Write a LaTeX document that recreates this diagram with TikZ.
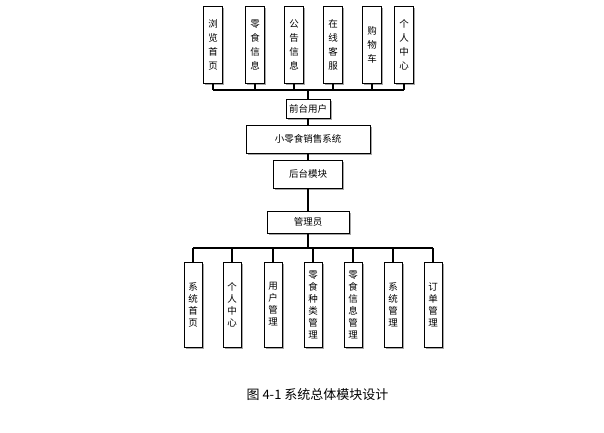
\documentclass[tikz,border=0pt]{standalone}
\usepackage{fontspec}
\setmainfont{Noto Sans CJK SC}
\usetikzlibrary{shadows}
\tikzset{
  modbox/.style={draw=black,fill=white,line width=1pt,inner sep=0pt,
    font=\fontsize{9.5}{14}\selectfont,align=center,
    drop shadow={shadow xshift=1.6pt,shadow yshift=-1.6pt,fill=gray!70,opacity=1}},
  topbox/.style={modbox,minimum width=19pt,minimum height=77pt},
  lowbox/.style={modbox,minimum width=18pt,minimum height=85pt,
    font=\fontsize{9.5}{12}\selectfont},
  link/.style={draw=black,line width=1.1pt}
}
\begin{document}
\begin{tikzpicture}[x=1pt,y=-1pt]
  \useasboundingbox (0,0) rectangle (604,432);
  % front modules
  \node[topbox] (t1) at(213,44.5){浏\\览\\首\\页};
  \node[topbox] (t2) at(255,44.5){零\\食\\信\\息};
  \node[topbox] (t3) at(294,44.5){公\\告\\信\\息};
  \node[topbox] (t4) at(333,44.5){在\\线\\客\\服};
  \node[topbox] (t5) at(372,44.5){购\\物\\车};
  \node[topbox] (t6) at(404,44.5){个\\人\\中\\心};
  % middle column
  \node[modbox,minimum width=44pt,minimum height=19pt] (user) at(308,108.5){前台用户};
  \node[modbox,minimum width=124pt,minimum height=28pt] (sys) at(308,139){小零食销售系统};
  \node[modbox,minimum width=69pt,minimum height=28pt] (back) at(308,174){后台模块};
  \node[modbox,minimum width=82pt,minimum height=22pt] (admin) at(308,222){管理员};
  % back modules
  \node[lowbox] (b1) at(193,304.5){系\\统\\首\\页};
  \node[lowbox] (b2) at(232,304.5){个\\人\\中\\心};
  \node[lowbox] (b3) at(273,304.5){用\\户\\管\\理};
  \node[lowbox] (b4) at(313,304.5){零\\食\\种\\类\\管\\理};
  \node[lowbox] (b5) at(353,304.5){零\\食\\信\\息\\管\\理};
  \node[lowbox] (b6) at(393,304.5){系\\统\\管\\理};
  \node[lowbox] (b7) at(433,304.5){订\\单\\管\\理};
  % upper tree
  \coordinate (topbar) at(308,90);
  \foreach \n in {t1,t2,t3,t4,t5,t6}
    \draw[link] (\n.south) -- (\n.south |- topbar);
  \draw[link] (t1.south |- topbar) -- (t6.south |- topbar);
  \draw[link] (topbar) -- (topbar |- user.north);
  % middle links
  \draw[link] (user) -- (sys);
  \draw[link] (sys) -- (back);
  \draw[link] (back) -- (admin);
  % lower tree
  \coordinate (lowbar) at(308,248);
  \draw[link] (admin.south) -- (lowbar);
  \draw[link] (b1.north |- lowbar) -- (b7.north |- lowbar);
  \foreach \n in {b1,b2,b3,b4,b5,b6,b7}
    \draw[link] (\n.north |- lowbar) -- (\n.north);
  % caption
  \node[font=\fontsize{13}{15}\selectfont] (cap) at(317.5,395){图 4-1 系统总体模块设计};
\end{tikzpicture}
\end{document}
